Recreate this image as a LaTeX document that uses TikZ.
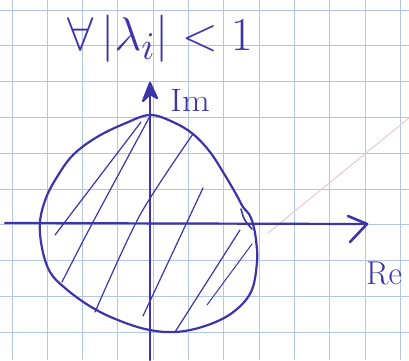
\documentclass[tikz,border=0pt]{standalone}
\usetikzlibrary{calc}
\definecolor{ink}{RGB}{62,52,170}
\definecolor{gridblue}{RGB}{178,198,234}
\definecolor{ghost}{RGB}{235,200,205}
\tikzset{
  gridline/.style={draw=gridblue, line width=1pt},
  inkline/.style={draw=ink, line width=2.2pt, line cap=round, line join=round},
  hatchline/.style={draw=ink, line width=1.2pt, line cap=round},
  labeltext/.style={text=ink, inner sep=0pt, font=\Huge},
}
\begin{document}
\begin{tikzpicture}[x=1pt, y=-1pt]
\useasboundingbox[fill=white] (0,0) rectangle (409,360);
% squared paper
\foreach \i in {0,...,11} { \draw[gridline] ({12+35.3*\i},0) -- ({12+35.3*\i},360); }
\foreach \j in {0,...,9} { \draw[gridline] (0,{10+35.8*\j}) -- (409,{10+35.8*\j}); }
% faint show-through from the back of the sheet
\draw[draw=ghost, line width=1pt] (268,233) -- (409,118);
% axes
\coordinate (xs) at (5,223);
\coordinate (xe) at (367,224);
\coordinate (ys) at (150,360);
\coordinate (ye) at (150,83);
\draw[inkline] (xs) -- (xe);
\draw[inkline, line width=2.6pt] (348,216) -- (xe) -- (350,242);
\draw[inkline] (ys) -- (ye);
\draw[inkline, fill=ink] (143,101) -- (ye) -- (157,98) -- (150,94) -- cycle;
% region |lambda| < 1
\draw[inkline] plot[smooth cycle, tension=0.6] coordinates {
 (150,115) (173,122) (193,134) (210,152) (223,172) (236,194) (243,207) (249,214)
 (253,224) (256,240) (257,262) (251,292) (232,313) (205,326) (175,332) (145,329)
 (113,318) (88,305) (65,288) (50,272) (42,248) (40,222) (46,198) (57,177)
 (73,155) (97,137) (126,123)};
\draw[inkline, line width=1.6pt] (241,209) .. controls (244,220) .. (252,229);
% hatching
\draw[hatchline] (141,122) -- (55,235);
\draw[hatchline] plot[smooth] coordinates {(149,118) (93,222) (62,282)};
\draw[hatchline] plot[smooth] coordinates {(193,134) (140,215) (95,312)};
\draw[hatchline] (203,188) -- (143,316);
\draw[hatchline] (240,230) -- (175,332);
\draw[hatchline, line width=1pt] (252,244) -- (207,305);
% labels
\node[labeltext, anchor=base west] (cond) at (67,50) {\scalebox{1.9}{$\forall\,|\lambda_i|<1$}};
\node[labeltext, anchor=base west] (im) at (170,111) {\scalebox{1.45}[1.3]{Im}};
\node[labeltext, anchor=base west] (re) at (366,284) {\scalebox{1.33}{Re}};
\end{tikzpicture}
\end{document}
